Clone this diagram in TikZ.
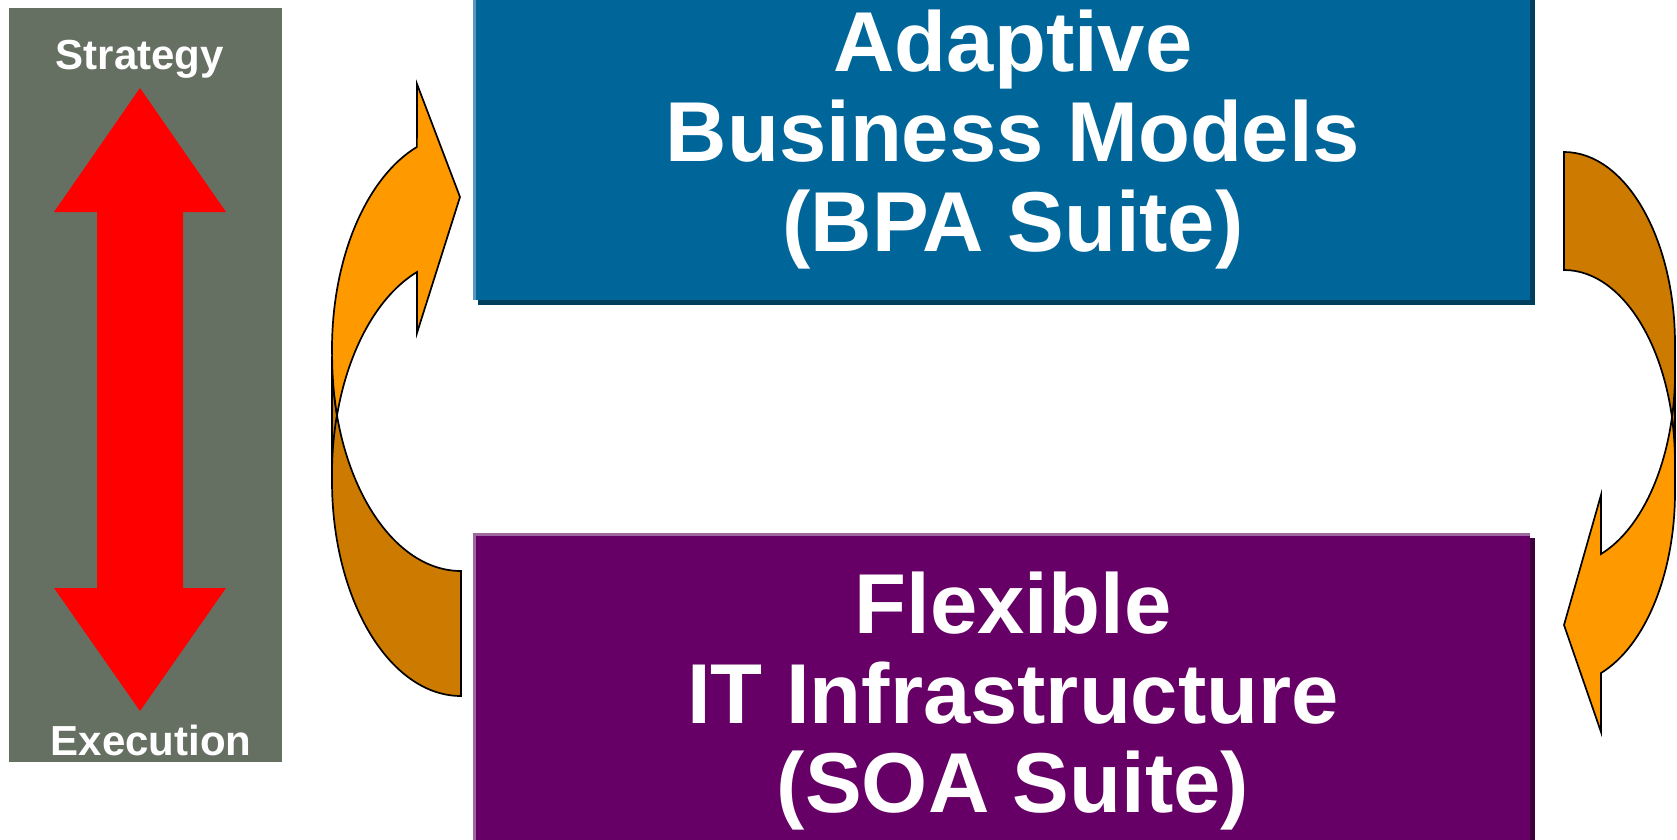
\documentclass[tikz,border=0pt]{standalone}
\usepackage{fontspec}
\setmainfont{Liberation Sans}
\definecolor{panelgray}{HTML}{667062}
\definecolor{arrowred}{HTML}{FF0000}
\definecolor{bpablue}{HTML}{006699}
\definecolor{bpablight}{HTML}{5A96BE}
\definecolor{bpabshadow}{HTML}{003E5E}
\definecolor{soapurple}{HTML}{660066}
\definecolor{soaplight}{HTML}{A066A0}
\definecolor{soapshadow}{HTML}{3D003D}
\definecolor{frontorange}{HTML}{FF9900}
\definecolor{backorange}{HTML}{CC7A00}
\tikzset{
  bigtext/.style={text=white, font=\fontsize{42.5}{45}\selectfont\bfseries, inner sep=0pt, anchor=base},
  smalltext/.style={text=white, font=\fontsize{21}{24}\selectfont\bfseries, inner sep=0pt, anchor=base},
  frontband/.style={fill=frontorange, draw=black, line width=0.85pt, line join=miter},
  backband/.style={fill=backorange, draw=black, line width=0.85pt, line join=miter},
  edgeline/.style={draw=black, line width=0.85pt},
}
\begin{document}
\begin{tikzpicture}[x=0.5pt, y=-0.5pt]
\useasboundingbox (0,0) rectangle (1677,840);
\fill[white] (0,0) rectangle (1677,840);

% left panel
\fill[panelgray] (9,8) rectangle (282,762);
\fill[arrowred] (140,88) -- (226,212) -- (183,212) -- (183,588) -- (226,588)
  -- (140,711) -- (54,588) -- (97,588) -- (97,212) -- (54,212) -- cycle;
\node[smalltext] (strategy) at (140,70) {Strategy};
\node[smalltext] (execution) at (151,755) {Execution};

% blue box
\fill[bpabshadow] (478,0) rectangle (1535,305);
\fill[bpablight] (473,0) rectangle (1530,300);
\fill[bpablue] (476,0) rectangle (1530,300);
\node[bigtext] (bpa1) at (1013,72) {Adaptive};
\node[bigtext] (bpa2) at (1013,162) {Business Models};
\node[bigtext] (bpa3) at (1013,251) {(BPA Suite)};

% purple box
\fill[soapshadow] (478,538) rectangle (1535,840);
\fill[soaplight] (473,533) rectangle (1530,840);
\fill[soapurple] (476,536) rectangle (1530,840);
\node[bigtext] (soa1) at (1013,633) {Flexible};
\node[bigtext] (soa2) at (1013,723) {IT Infrastructure};
\node[bigtext] (soa3) at (1013,812) {(SOA Suite)};

% left curved arrow
\path[backband] (332,356) arc[start angle=180, end angle=90, x radius=129, y radius=215]
  -- (461,696) arc[start angle=90, end angle=180, x radius=129, y radius=215] -- cycle;
\path[frontband] (332,349) arc[start angle=180, end angle=250, x radius=129, y radius=215]
  -- (417,84) -- (460,197) -- (417,333) -- (417,272)
  arc[start angle=250, end angle=195.93, x radius=129, y radius=215]
  arc[start angle=164.07, end angle=180, x radius=129, y radius=215] -- cycle;
\draw[edgeline] (336.95,415) arc[start angle=195.93, end angle=180, x radius=129, y radius=215];

% right curved arrow
\path[backband] (1564,152) arc[start angle=270, end angle=360, x radius=111, y radius=192]
  -- (1675,462) arc[start angle=0, end angle=-90, x radius=111, y radius=192] -- cycle;
\path[frontband] (1675,492) arc[start angle=0, end angle=70.5, x radius=111, y radius=192]
  -- (1601,732) -- (1564,625) -- (1601,495) -- (1601,554)
  arc[start angle=70.5, end angle=13.4, x radius=111, y radius=192]
  arc[start angle=-13.4, end angle=0, x radius=111, y radius=192] -- cycle;
\draw[edgeline] (1671.98,417.5) arc[start angle=13.4, end angle=0, x radius=111, y radius=192];
\end{tikzpicture}
\end{document}
